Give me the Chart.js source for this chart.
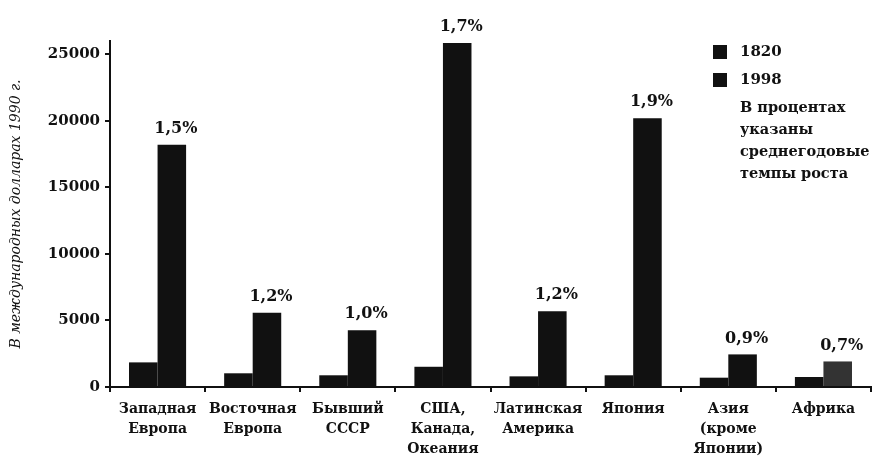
<!DOCTYPE html>
<html>
<head>
<meta charset="utf-8">
<script src="https://cdn.jsdelivr.net/npm/chart.js@4"></script>
<style>
  html, body { margin: 0; padding: 0; background: #fff; }
  #box { width: 876px; height: 463px; }
</style>
</head>
<body>
<div id="box"><canvas id="grafico"></canvas></div>
<script>
// regioes
var regioes = [
    ['Западная', 'Европа'],
    ['Восточная', 'Европа'],
    ['Бывший', 'СССР'],
    ['США,', 'Канада,', 'Океания'],
    ['Латинская', 'Америка'],
    ['Япония'],
    ['Азия', '(кроме', 'Японии)'],
    ['Африка']
];
// PIB per capita, dolares internacionais de 1990
var anos1820 = [1850, 1030, 880, 1520, 800, 880, 700, 750];
var anos1998 = [18200, 5580, 4270, 25850, 5700, 20200, 2450, 1920];
// taxas medias de crescimento
var taxas = ['1,5%', '1,2%', '1,0%', '1,7%', '1,2%', '1,9%', '0,9%', '0,7%'];
var nota = ['В процентах', 'указаны', 'среднегодовые', 'темпы роста'];
var ticksY = [0, 5000, 10000, 15000, 20000, 25000];

var serif = "'DejaVu Serif', serif";
// a barra da Africa de 1998 esta impressa com retícula
var cores1998 = ['#111', '#111', '#111', '#111', '#111', '#111', '#111', '#333'];

var pluginTextos = {
    id: 'textos',
    afterDatasetsDraw: function(chart) {
        var ctx = chart.ctx;
        var area = chart.chartArea;
        ctx.save();
        // taxas acima das barras de 1998
        ctx.fillStyle = '#111';
        ctx.font = 'bold 16px ' + serif;
        ctx.textAlign = 'center';
        ctx.textBaseline = 'bottom';
        chart.getDatasetMeta(1).data.forEach(function(bar, i) {
            ctx.fillText(taxas[i], bar.x + 4, bar.y - 8);
        });
        // legenda
        var lx = area.right - 158;
        ctx.textAlign = 'left';
        ctx.textBaseline = 'middle';
        chart.data.datasets.forEach(function(ds, i) {
            var y = 52 + i * 28;
            ctx.fillStyle = '#111';
            ctx.fillRect(lx, y - 7, 14, 14);
            ctx.font = 'bold 15px ' + serif;
            ctx.fillText(ds.label, lx + 27, y);
        });
        ctx.font = 'bold 14.5px ' + serif;
        nota.forEach(function(linha, i) {
            ctx.fillText(linha, lx + 27, 108 + i * 22);
        });
        ctx.restore();
    }
};

var ctxGrafico = document.getElementById('grafico').getContext('2d');
var grafico = new Chart(ctxGrafico, {
    type: 'bar',
    data: {
        labels: regioes,
        datasets: [{
            label: '1820',
            backgroundColor: '#111',
            data: anos1820
        }, {
            label: '1998',
            backgroundColor: cores1998,
            data: anos1998
        }]
    },
    options: {
        responsive: true,
        maintainAspectRatio: false,
        animation: false,
        categoryPercentage: 0.6,
        barPercentage: 1.0,
        layout: { padding: { left: 8, right: 5, top: 41, bottom: 0 } },
        plugins: {
            legend: { display: false },
            tooltip: { enabled: false }
        },
        scales: {
            x: {
                grid: { display: true, drawOnChartArea: false, offset: true, tickLength: 5, color: '#111', lineWidth: 2 },
                border: { display: true, color: '#111', width: 2 },
                ticks: {
                    color: '#111',
                    maxRotation: 0,
                    autoSkip: false,
                    padding: 7,
                    font: { family: serif, size: 14, weight: 'bold', lineHeight: 1.43 }
                },
                afterFit: function(scale) { scale.height = 76; }
            },
            y: {
                min: 0,
                max: 26000,
                afterBuildTicks: function(scale) {
                    scale.ticks = ticksY.map(function(v) { return { value: v }; });
                },
                grid: { display: true, drawOnChartArea: false, tickLength: 5, color: '#111', lineWidth: 2 },
                border: { display: true, color: '#111', width: 2 },
                ticks: {
                    color: '#111',
                    padding: 5,
                    font: { family: serif, size: 15, weight: 'bold' },
                    callback: function(v) { return String(v); }
                },
                title: {
                    display: true,
                    text: 'В международных долларах 1990 г.',
                    color: '#111',
                    padding: 0,
                    font: { family: serif, size: 14, style: 'italic' }
                },
                afterFit: function(scale) { scale.width = 102; }
            }
        }
    },
    plugins: [pluginTextos]
});
</script>
</body>
</html>
